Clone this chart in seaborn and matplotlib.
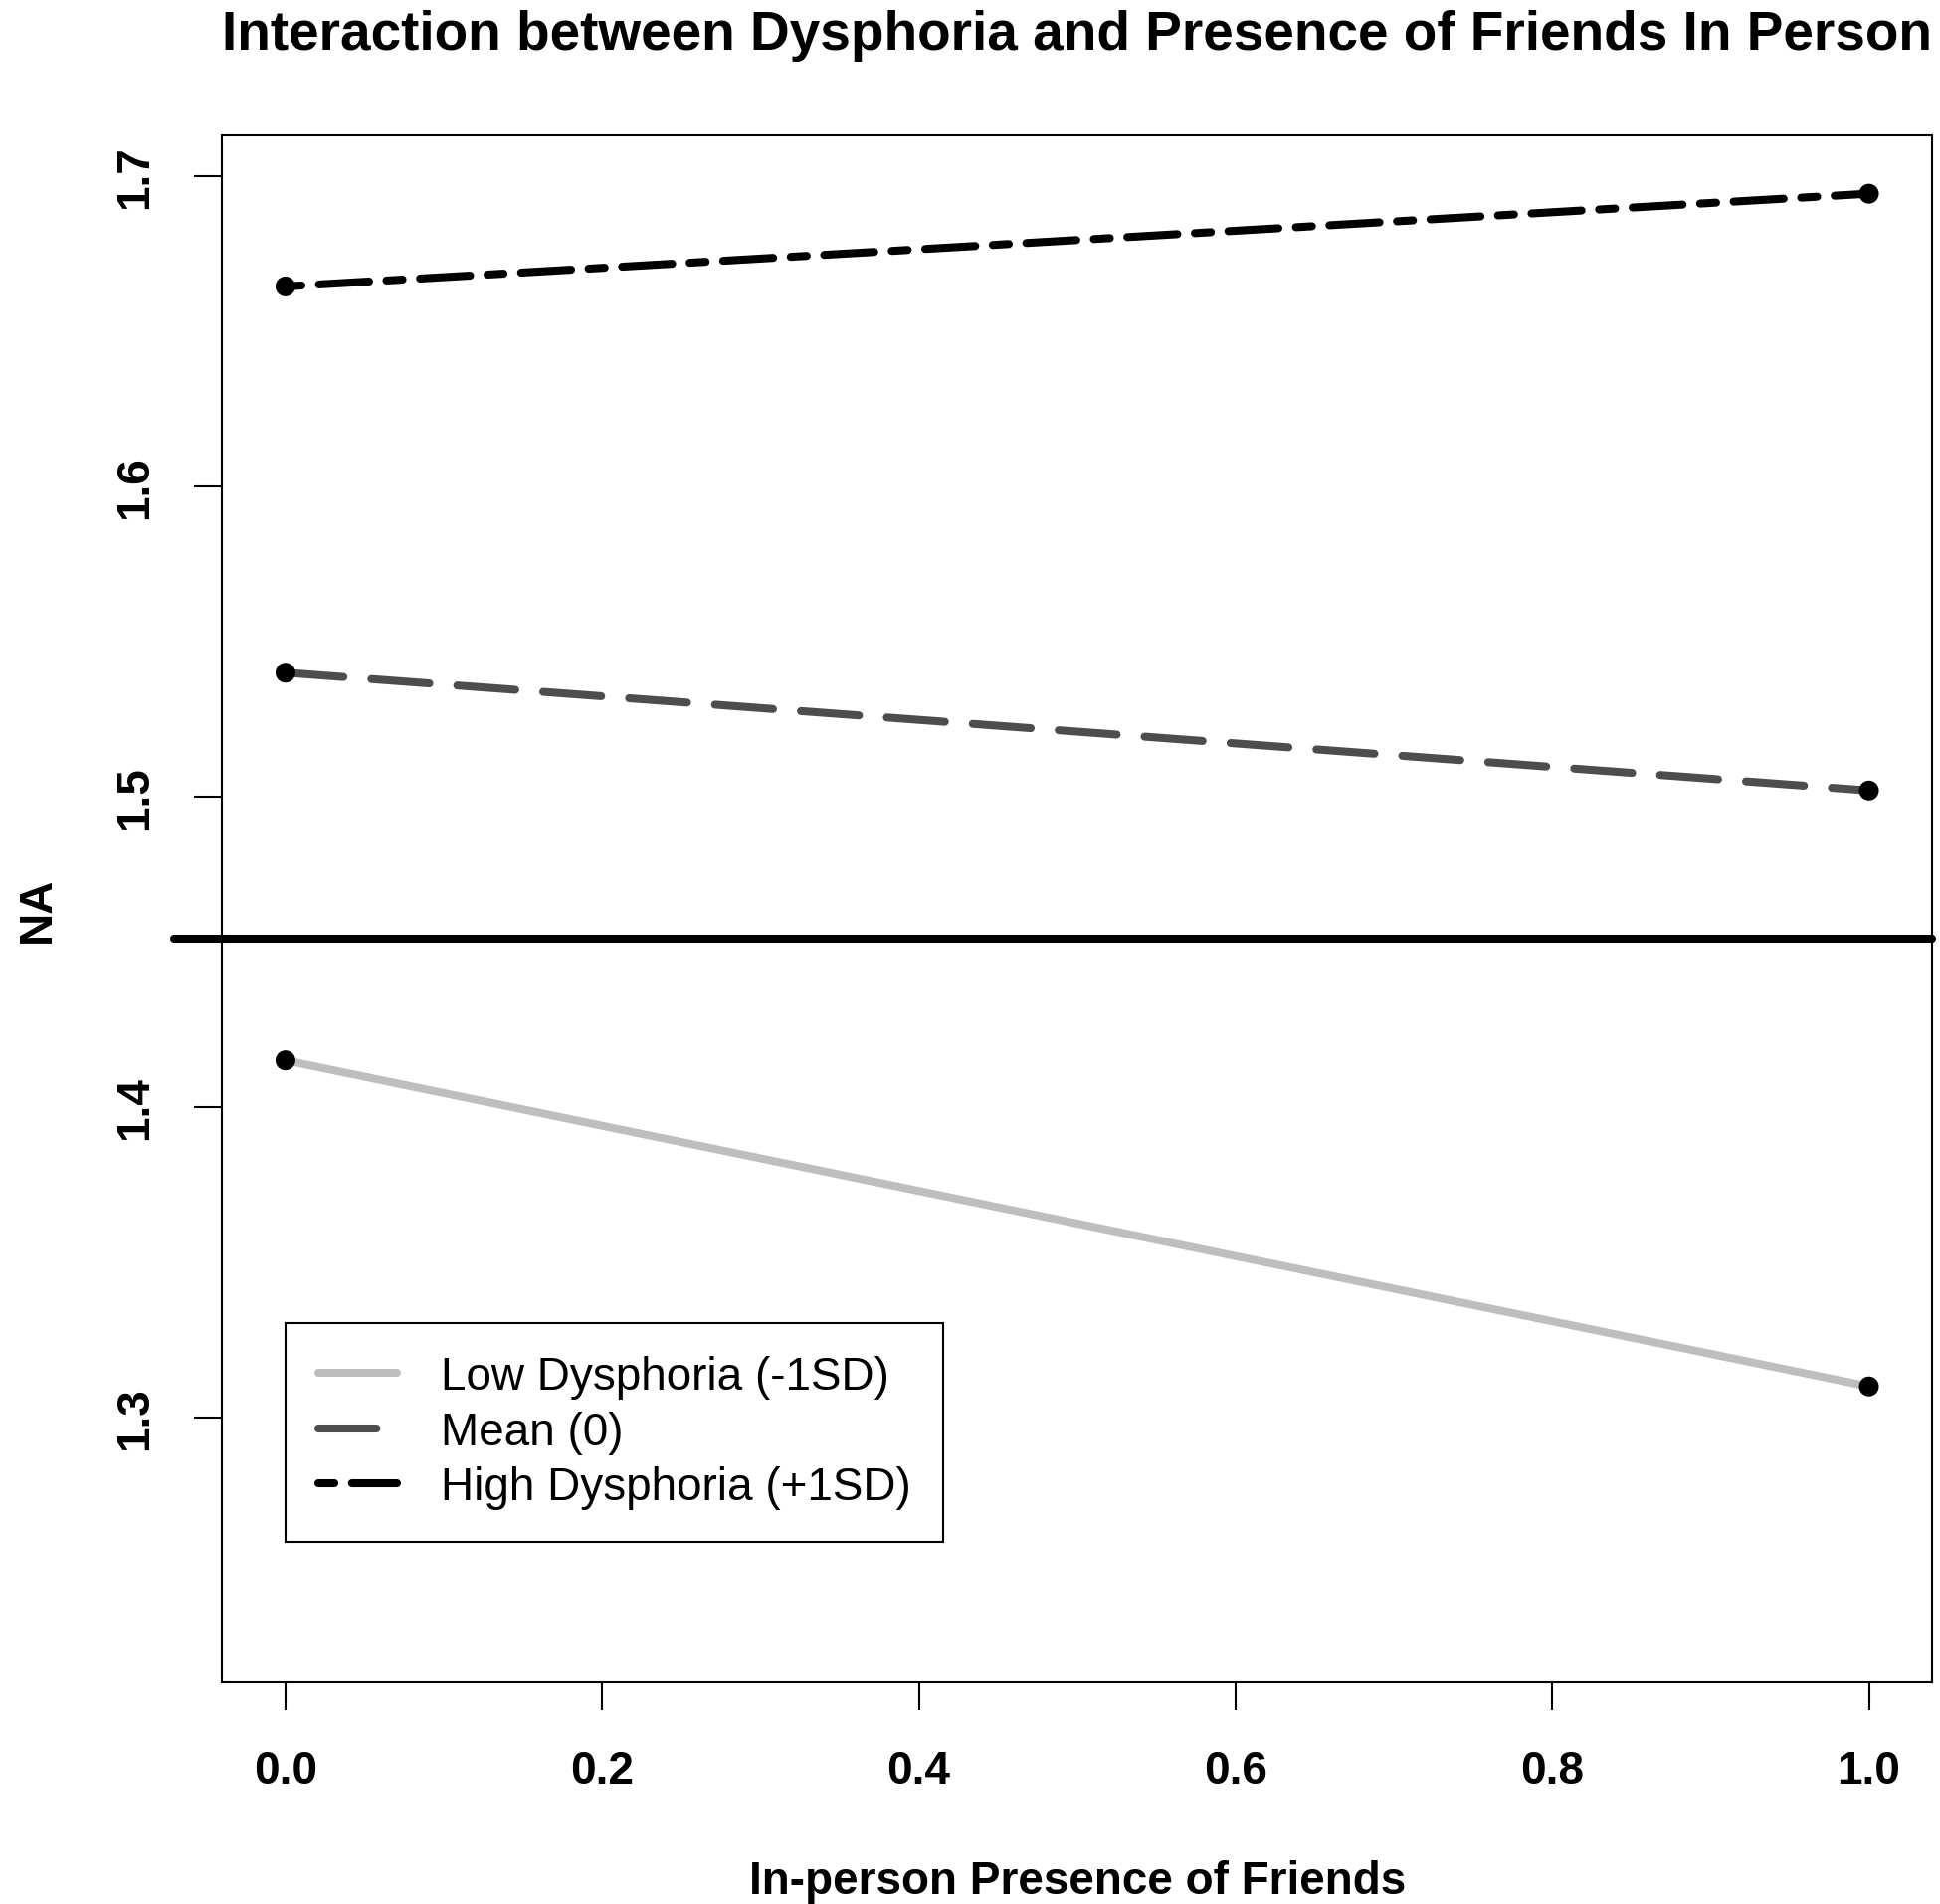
import numpy as np
import pandas as pd
import matplotlib
matplotlib.use("Agg")
import matplotlib.pyplot as plt
import seaborn as sns

# ---------------- data ----------------
x_presence = [0.0, 1.0]
low_dysphoria = [1.415, 1.310]
mean_dysphoria = [1.540, 1.502]
high_dysphoria = [1.6645, 1.6944]
reference_na = 1.4541
series_labels = ["Low Dysphoria (-1SD)", "Mean (0)", "High Dysphoria (+1SD)"]
series_colors = ["#BEBEBE", "#4D4D4D", "#000000"]
x_ticks = [0.0, 0.2, 0.4, 0.6, 0.8, 1.0]
y_ticks = [1.3, 1.4, 1.5, 1.6, 1.7]
title_text = "Interaction between Dysphoria and Presence of Friends In Person"
xlabel_text = "In-person Presence of Friends"
ylabel_text = "NA"

# ---------------- style ----------------
sns.set_theme(style="white")
plt.rcParams['font.family'] = ['Liberation Sans', 'DejaVu Sans']
plt.rcParams['text.color'] = 'black'
plt.rcParams['axes.labelcolor'] = 'black'
plt.rcParams['xtick.color'] = 'black'
plt.rcParams['ytick.color'] = 'black'

LW = 5.8
line_styles = [
    '-',
    (0, (7.25, 3.5)),
    (0, (2.0, 2.19, 6.25, 2.19)),
]

df = pd.DataFrame({
    "x": x_presence * 3,
    "NA": low_dysphoria + mean_dysphoria + high_dysphoria,
    "group": [series_labels[0]] * 2 + [series_labels[1]] * 2 + [series_labels[2]] * 2,
})

fig = plt.figure(figsize=(19.5, 19.15), dpi=100)
ax = fig.add_axes([0.1145, 0.11645, 0.8815, 0.81201])

for lab, col, ls in zip(series_labels, series_colors, line_styles):
    sub = df[df["group"] == lab]
    sns.lineplot(data=sub, x="x", y="NA", color=col, linewidth=LW,
                 linestyle=ls, dash_capstyle='round', solid_capstyle='round',
                 errorbar=None, label=lab, ax=ax, zorder=3)

sns.scatterplot(data=df, x="x", y="NA", color="black", s=207,
                edgecolor="none", linewidth=0, zorder=5, legend=False, ax=ax)

ax.axhline(reference_na, xmin=-0.0281, xmax=1.0, color="black", lw=LW,
           clip_on=False, solid_capstyle='round', zorder=4)

ax.set_xlim(-0.04, 1.04)
ax.set_ylim(1.2147, 1.7132)
ax.set_xticks(x_ticks)
ax.set_xticklabels([f"{t:.1f}" for t in x_ticks], fontweight='bold')
ax.set_yticks(y_ticks)
ax.set_yticklabels([f"{t:.1f}" for t in y_ticks], fontweight='bold')
ax.tick_params(axis='both', direction='out', length=20, width=1.5,
               labelsize=33, color='black', labelcolor='black')
ax.tick_params(axis='x', pad=28, bottom=True)
ax.tick_params(axis='y', pad=26.6, labelrotation=90, left=True)
for t in ax.get_yticklabels():
    t.set_va('center')
    t.set_ha('right')

for sp in ax.spines.values():
    sp.set_color('black')
    sp.set_linewidth(1.5)

ax.set_xlabel(xlabel_text, fontsize=33, fontweight='bold')
ax.xaxis.set_label_coords(0.5, -0.1145)
ax.set_ylabel(ylabel_text, fontsize=33, fontweight='bold')
ax.yaxis.set_label_coords(-0.0952, 0.5)
ax.set_title(title_text, fontsize=39.6, fontweight='bold', pad=62.6)

handles, labels = ax.get_legend_handles_labels()
keep = [(h, l) for h, l in zip(handles, labels) if l in series_labels]
leg = ax.legend([k[0] for k in keep], [k[1] for k in keep],
                loc='upper left', bbox_to_anchor=(0.03706, 0.2322),
                borderaxespad=0, fontsize=33, frameon=True, fancybox=False,
                edgecolor='black', framealpha=1, borderpad=0.71,
                labelspacing=0.25, handlelength=1.73, handletextpad=0.96)
leg.get_frame().set_linewidth(1.5)
for txt in leg.get_texts():
    txt.set_color('black')

fig.savefig("out.png", dpi=100)
